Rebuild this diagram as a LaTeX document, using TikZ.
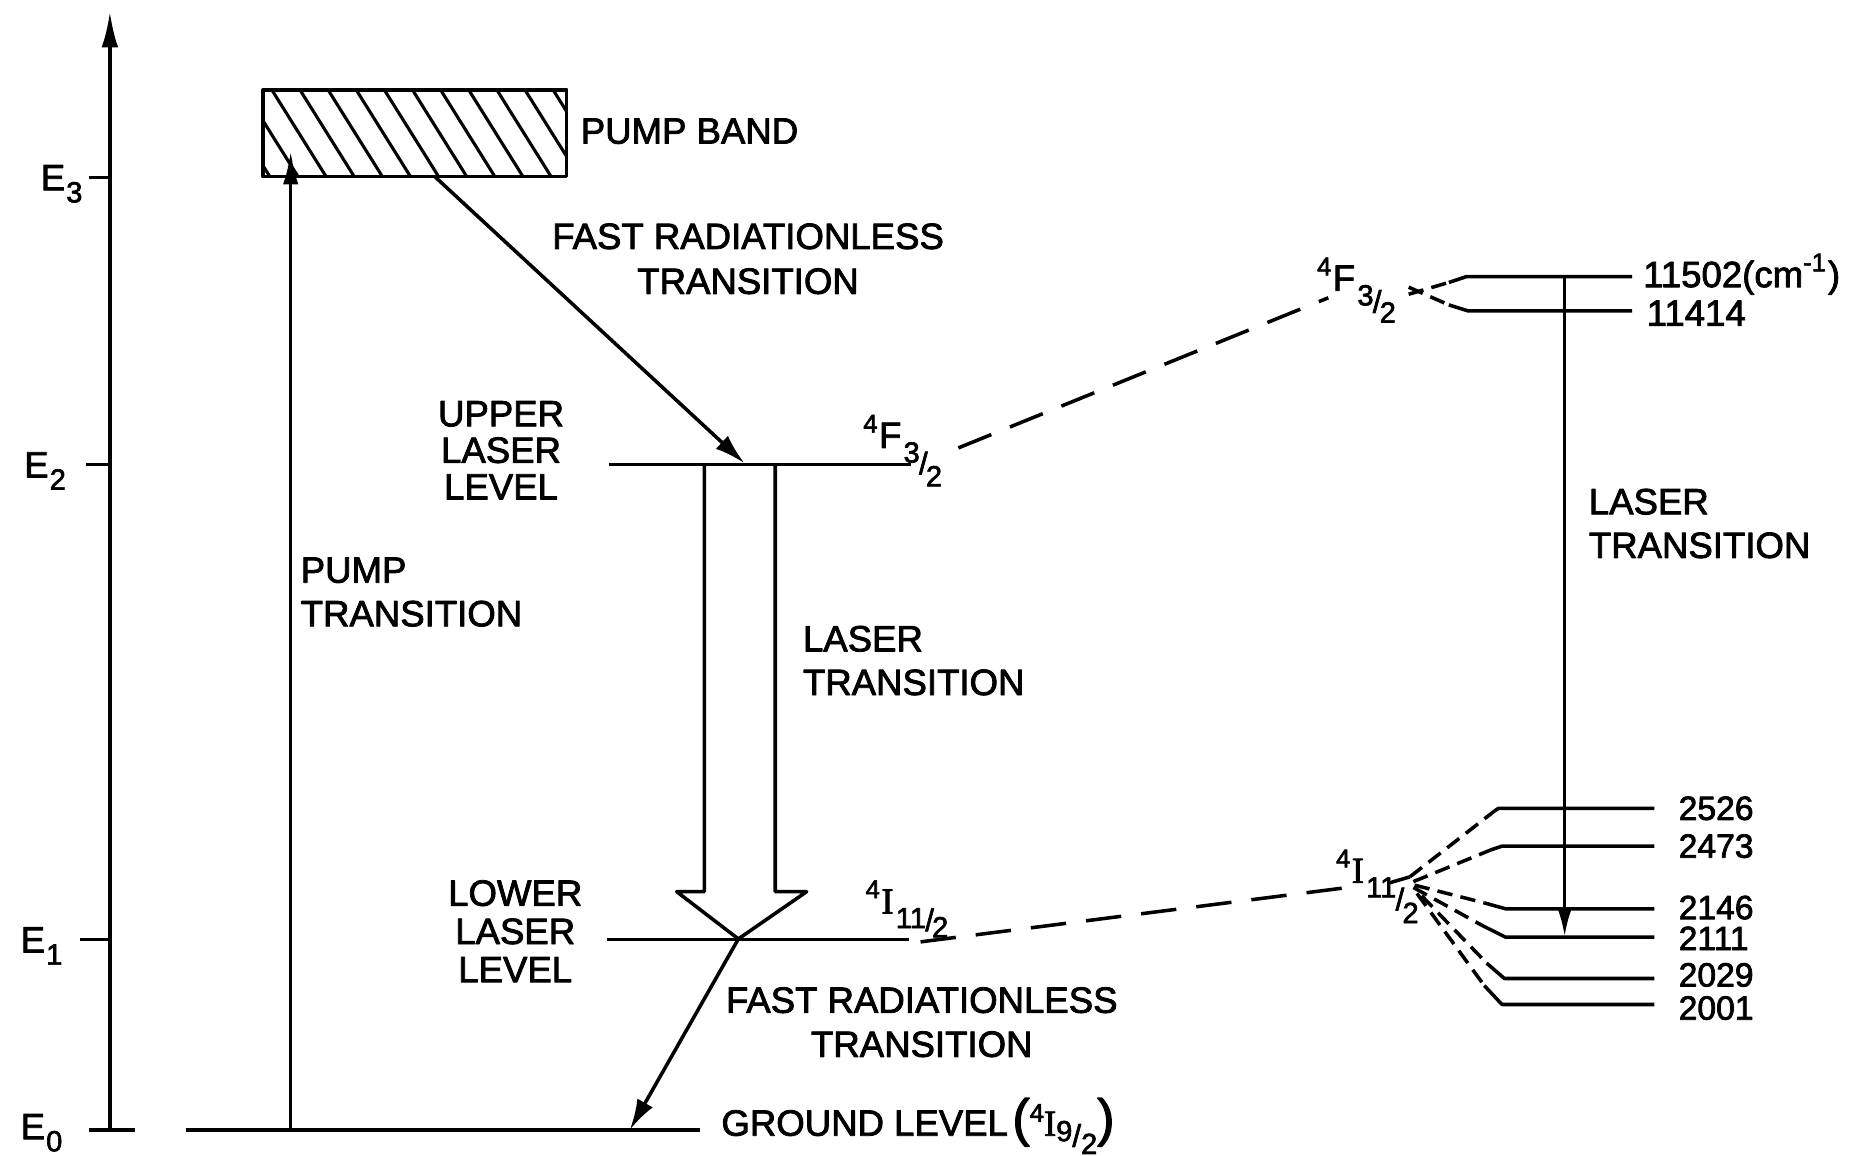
\documentclass[tikz,border=0pt]{standalone}
\usepackage{fontspec}
\setmainfont{Liberation Sans}[FakeBold=2.2]
\newfontfamily\serI{Liberation Serif}[FakeBold=2.2]
\usetikzlibrary{arrows.meta}
\newcommand\trm[5]{%
  \raisebox{0.42em}{\fontsize{6.2}{6}\selectfont 4}\kern0.04em
  #1\kern0.06em
  \raisebox{-0.4em}{\fontsize{7}{6}\selectfont #2}\kern-0.02em
  \raisebox{-#5}{\fontsize{7.5}{6}\selectfont /}\kern-0.05em
  \raisebox{-#4}{\fontsize{7}{6}\selectfont #3}}
\newcommand\esub[1]{\kern0.03em\raisebox{-0.33em}{\fontsize{7}{7}\selectfont #1}}
\begin{document}
\begin{tikzpicture}[x=0.01cm,y=-0.01cm,line width=0.85pt,line join=round,
  txt/.style={font=\fontsize{8.8}{10.5}\selectfont,inner sep=0pt},
  arr/.style={-{Latex[length=2.6mm,width=1.5mm]}},
  ldash/.style={dash pattern=on 0.3cm off 0.17cm},
  sdash/.style={dash pattern=on 0.13cm off 0.07cm}]
\useasboundingbox (0,0) rectangle (1568,978);
% axis
\coordinate (ax0) at (93,956);
\coordinate (axtop) at (93,10);
\draw[-{Latex[length=3mm,width=1.4mm]}] (ax0) -- (axtop);
\foreach \n/\y/\a/\b in {3/150/75/93,2/393/73/93,1/795/68/93,0/956/75/114}{
  \coordinate (t\n a) at (\a,\y); \coordinate (t\n b) at (\b,\y);
  \draw (t\n a) -- (t\n b);}
\node[txt,anchor=base west] (E3) at (33,161) {E\esub{3}};
\node[txt,anchor=base west] (E2) at (19,404) {E\esub{2}};
\node[txt,anchor=base west] (E1) at (16,806) {E\esub{1}};
\node[txt,anchor=base west] (E0) at (16,964) {E\esub{0}};
% pump band
\coordinate (pbA) at (222.6,76);
\coordinate (pbB) at (479.5,149.5);
\begin{scope}
\clip (pbA) rectangle (pbB);
\foreach \i in {-3,...,11}{\draw[line width=0.75pt] ({230+23.8*\i},76) -- ({230+23.8*\i+46},149.5);}
\end{scope}
\draw (pbA) rectangle (pbB);
\node[txt,anchor=west] (pband) at (490,111) {PUMP BAND};
% ground
\coordinate (g1) at (157,956);
\coordinate (g2) at (592,956);
\draw (g1) -- (g2);
\node[txt,anchor=base west] (gnd) at (609,961) {GROUND LEVEL\kern0.12em{\fontsize{12.5}{12}\selectfont(}\raisebox{0.38em}{\fontsize{6.2}{6}\selectfont 4}{\serI I}\raisebox{-0.15em}{\fontsize{7}{6}\selectfont 9}\raisebox{-0.3em}{\fontsize{7.5}{6}\selectfont /}\raisebox{-0.5em}{\fontsize{7}{6}\selectfont 2}{\fontsize{12.5}{12}\selectfont)}};
% pump transition
\coordinate (pump0) at (246,956);
\coordinate (pump1) at (246,128);
\draw[-{Latex[length=2.8mm,width=1.3mm]}] (pump0) -- (pump1);
\node[txt,anchor=west,align=left,font=\fontsize{8.8}{10.5}\selectfont] (ptr) at (253,501) {PUMP\\TRANSITION};
% fast radiationless 1
\coordinate (f1a) at (368,149.5);
\coordinate (f1b) at (630,392);
\draw[arr] (f1a) -- (f1b);
\node[txt,align=center,font=\fontsize{8.8}{10.8}\selectfont] (frt1) at (633,219) {FAST RADIATIONLESS\\TRANSITION};
% upper laser level
\coordinate (u1) at (515,393);
\coordinate (u2) at (771,393);
\draw (u1) -- (u2);
\node[txt,align=center,font=\fontsize{8.8}{8.8}\selectfont] (ull) at (424,381) {UPPER\\LASER\\LEVEL};
\node[txt,anchor=base west] (tF1) at (729,379) {\trm{F}{3}{2}{1.05em}{0.72em}};
% lower laser level
\coordinate (l1) at (514,795);
\coordinate (l2) at (769,795);
\draw (l1) -- (l2);
\node[txt,align=center,font=\fontsize{8.8}{9.2}\selectfont] (lll) at (436,788) {LOWER\\LASER\\LEVEL};
\node[txt,anchor=base west] (tI1) at (731,773) {\trm{{\serI I}}{11}{2}{0.65em}{0.48em}};
% open laser arrow
\coordinate (oa1) at (596,393);
\coordinate (oa2) at (596,754.5);
\coordinate (oa3) at (572.6,754.5);
\coordinate (oatip) at (624.8,794.5);
\coordinate (oa5) at (682.6,754.5);
\coordinate (oa6) at (656,754.5);
\coordinate (oa7) at (656,393);
\draw (oa1) -- (oa2) -- (oa3) -- (oatip) -- (oa5) -- (oa6) -- (oa7);
\node[txt,anchor=west,align=left,font=\fontsize{8.8}{10.5}\selectfont] (ltr1) at (678,559) {LASER\\TRANSITION};
% fast radiationless 2
\coordinate (f2b) at (533,956);
\draw[arr] (oatip) -- (f2b);
\node[txt,align=center,font=\fontsize{8.8}{10.6}\selectfont] (frt2) at (780,865) {FAST RADIATIONLESS\\TRANSITION};
% connecting dashed lines
\coordinate (dF1) at (811,379);
\coordinate (dF2) at (1124,252);
\draw[ldash] (dF1) -- (dF2);
\coordinate (dI1) at (779,797);
\coordinate (dI2) at (1148,750);
\draw[ldash] (dI1) -- (dI2);
% right 4F3/2
\node[txt,anchor=base west] (tF2) at (1113,246) {\trm{F}{3}{2}{0.87em}{0.6em}};
\coordinate (fo) at (1192,246);
\coordinate (s1a) at (1226,239);
\coordinate (s1b) at (1241,234);
\coordinate (s1c) at (1381,234);
\coordinate (s2a) at (1226,258);
\coordinate (s2b) at (1242,263);
\coordinate (s2c) at (1381,263);
\draw[sdash] ([yshift=-0.03cm]fo) -- (s1a);
\draw (s1a) -- (s1b) -- (s1c);
\draw[sdash] ([yshift=0.03cm]fo) -- (s2a);
\draw (s2a) -- (s2b) -- (s2c);
\node[txt,anchor=west] (e11502) at (1389,232) {11502(cm\textsuperscript{-1})};
\node[txt,anchor=west] (e11414) at (1392,265) {11414};
% right laser transition
\coordinate (rt1) at (1324,234);
\coordinate (rt2) at (1324,793);
\draw[-{Latex[length=2.4mm,width=1.2mm]}] (rt1) -- (rt2);
\node[txt,anchor=west,align=left,font=\fontsize{8.8}{10.5}\selectfont] (ltr2) at (1343,443) {LASER\\TRANSITION};
% right 4I11/2
\node[txt,anchor=base west] (tI2) at (1129,747) {\trm{{\serI I}}{11}{2}{1.1em}{0.75em}};
\coordinate (io1) at (1176,747);
\coordinate (io) at (1193,742);
\draw (io1) -- (io);
\foreach \n/\dx/\dy/\ax/\ay/\bx/\by/\y/\ly/\lab in {
  a/1193/742/1265/686/1268/684/684/684/2526,
  b/1196/746/1262/719/1271/716/716/716/2473,
  c/1197/749/1256/764/1274/769/769/768/2146,
  d/1196/751/1254/783/1274/793/793/794/2111,
  e/1203/758/1258/815/1273/828/828/825/2029,
  f/1199/756/1256/834/1271/850/850/853/2001}{
  \coordinate (fs\n) at (\dx,\dy);
  \coordinate (fa\n) at (\ax,\ay);
  \coordinate (fb\n) at (\bx,\by);
  \coordinate (fc\n) at (1400,\y);
  \draw[sdash] (fs\n) -- (fa\n);
  \draw (fa\n) -- (fb\n) -- (fc\n);
  \node[txt,anchor=west,font=\fontsize{8.1}{9}\selectfont] (lv\n) at (1419,\ly) {\lab};
}
\end{tikzpicture}
\end{document}
